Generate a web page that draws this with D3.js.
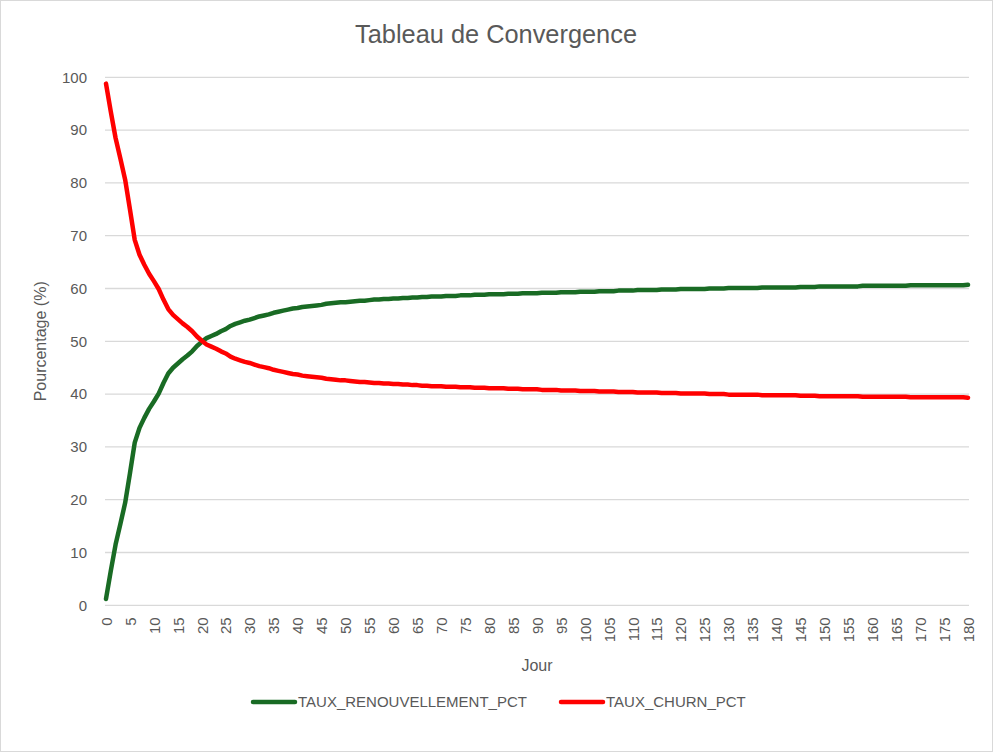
<!DOCTYPE html>
<html>
<head>
<meta charset="utf-8">
<script src="https://cdn.jsdelivr.net/npm/d3@7"></script>
<style>
  html, body { margin: 0; padding: 0; background: #fff; }
  svg text { font-family: 'Liberation Sans', Arial, sans-serif; fill: #595959; }
</style>
</head>
<body>
<div id="chart"></div>
<script>
// Tableau de Convergence - deux séries en %, jour 0 à 180

const title = 'Tableau de Convergence';
const xTitle = 'Jour';
const yTitle = 'Pourcentage (%)';
const seriesNames = ['TAUX_RENOUVELLEMENT_PCT', 'TAUX_CHURN_PCT'];

// jours (catégories)
const days = d3.range(0, 181);
const xTickLabels = d3.range(0, 181, 5);
const yTickLabels = [0, 10, 20, 30, 40, 50, 60, 70, 80, 90, 100];

// taux de renouvellement
const renouvellement = [
  1.2, 6.5, 11.5, 15.4, 19.4, 25.0, 30.8, 33.6, 35.5, 37.2,
  38.6, 40.1, 42.1, 43.9, 45.0, 45.8, 46.6, 47.3, 48.1, 49.1,
  49.9, 50.6, 51.0, 51.4, 51.9, 52.3, 52.9, 53.3, 53.6, 53.9,
  54.1, 54.4, 54.7, 54.9, 55.1, 55.4, 55.6, 55.8, 56.0, 56.2,
  56.3, 56.5, 56.6, 56.7, 56.8, 56.9, 57.1, 57.2, 57.3, 57.4,
  57.4, 57.5, 57.6, 57.7, 57.7, 57.8, 57.9, 57.9, 58.0, 58.0,
  58.1, 58.1, 58.2, 58.2, 58.3, 58.3, 58.4, 58.4, 58.5, 58.5,
  58.5, 58.6, 58.6, 58.6, 58.7, 58.7, 58.7, 58.8, 58.8, 58.8,
  58.9, 58.9, 58.9, 58.9, 59.0, 59.0, 59.0, 59.1, 59.1, 59.1,
  59.1, 59.2, 59.2, 59.2, 59.2, 59.3, 59.3, 59.3, 59.3, 59.4,
  59.4, 59.4, 59.4, 59.5, 59.5, 59.5, 59.5, 59.6, 59.6, 59.6,
  59.6, 59.7, 59.7, 59.7, 59.7, 59.7, 59.8, 59.8, 59.8, 59.8,
  59.9, 59.9, 59.9, 59.9, 59.9, 59.9, 60.0, 60.0, 60.0, 60.0,
  60.1, 60.1, 60.1, 60.1, 60.1, 60.1, 60.1, 60.2, 60.2, 60.2,
  60.2, 60.2, 60.2, 60.2, 60.2, 60.3, 60.3, 60.3, 60.3, 60.4,
  60.4, 60.4, 60.4, 60.4, 60.4, 60.4, 60.4, 60.4, 60.5, 60.5,
  60.5, 60.5, 60.5, 60.5, 60.5, 60.5, 60.5, 60.5, 60.6, 60.6,
  60.6, 60.6, 60.6, 60.6, 60.6, 60.6, 60.6, 60.6, 60.6, 60.6,
  60.7
];

// taux de churn
const churn = [
  98.8, 93.5, 88.5, 84.6, 80.6, 75.0, 69.2, 66.4, 64.5, 62.8,
  61.4, 59.9, 57.9, 56.1, 55.0, 54.2, 53.4, 52.7, 51.9, 50.9,
  50.1, 49.4, 49.0, 48.6, 48.1, 47.7, 47.1, 46.7, 46.4, 46.1,
  45.9, 45.6, 45.3, 45.1, 44.9, 44.6, 44.4, 44.2, 44.0, 43.8,
  43.7, 43.5, 43.4, 43.3, 43.2, 43.1, 42.9, 42.8, 42.7, 42.6,
  42.6, 42.5, 42.4, 42.3, 42.3, 42.2, 42.1, 42.1, 42.0, 42.0,
  41.9, 41.9, 41.8, 41.8, 41.7, 41.7, 41.6, 41.6, 41.5, 41.5,
  41.5, 41.4, 41.4, 41.4, 41.3, 41.3, 41.3, 41.2, 41.2, 41.2,
  41.1, 41.1, 41.1, 41.1, 41.0, 41.0, 41.0, 40.9, 40.9, 40.9,
  40.9, 40.8, 40.8, 40.8, 40.8, 40.7, 40.7, 40.7, 40.7, 40.6,
  40.6, 40.6, 40.6, 40.5, 40.5, 40.5, 40.5, 40.4, 40.4, 40.4,
  40.4, 40.3, 40.3, 40.3, 40.3, 40.3, 40.2, 40.2, 40.2, 40.2,
  40.1, 40.1, 40.1, 40.1, 40.1, 40.1, 40.0, 40.0, 40.0, 40.0,
  39.9, 39.9, 39.9, 39.9, 39.9, 39.9, 39.9, 39.8, 39.8, 39.8,
  39.8, 39.8, 39.8, 39.8, 39.8, 39.7, 39.7, 39.7, 39.7, 39.6,
  39.6, 39.6, 39.6, 39.6, 39.6, 39.6, 39.6, 39.6, 39.5, 39.5,
  39.5, 39.5, 39.5, 39.5, 39.5, 39.5, 39.5, 39.5, 39.4, 39.4,
  39.4, 39.4, 39.4, 39.4, 39.4, 39.4, 39.4, 39.4, 39.4, 39.4,
  39.3
];

const colors = ['#196b24', '#ff0000'];

const width = 993, height = 752;
const plot = { left: 106, right: 968, top: 77.3, bottom: 605.3 };

const svg = d3.select('#chart').append('svg')
  .attr('width', width)
  .attr('height', height);

// cadre extérieur
svg.append('rect')
  .attr('x', 0.5).attr('y', 0.5)
  .attr('width', width - 1).attr('height', height - 1)
  .attr('fill', '#fff')
  .attr('stroke', '#d9d9d9');

const x = d3.scaleLinear().domain([0, 180]).range([plot.left, plot.right]);
const y = d3.scaleLinear().domain([0, 100]).range([plot.bottom, plot.top]);

// grille horizontale
svg.append('g')
  .selectAll('line')
  .data(yTickLabels)
  .join('line')
  .attr('x1', plot.left - 1).attr('x2', plot.right + 1)
  .attr('y1', d => y(d)).attr('y2', d => y(d))
  .attr('stroke', '#d9d9d9')
  .attr('stroke-width', 1.3);

// axe Y (sans trait)
const yAxis = svg.append('g')
  .attr('transform', `translate(${plot.left - 19},0)`)
  .call(d3.axisLeft(y).tickValues(yTickLabels).tickSize(0).tickPadding(0));
yAxis.select('.domain').remove();
yAxis.selectAll('text')
  .attr('font-size', 15)
  .attr('font-family', null)
  .attr('fill', '#595959');

// axe X (étiquettes verticales)
const xAxis = svg.append('g')
  .attr('transform', `translate(0,${plot.bottom + 12})`)
  .call(d3.axisBottom(x).tickValues(xTickLabels).tickSize(0).tickPadding(0));
xAxis.select('.domain').remove();
xAxis.selectAll('text')
  .attr('font-size', 15)
  .attr('font-family', null)
  .attr('fill', '#595959')
  .attr('transform', 'rotate(-90)')
  .attr('text-anchor', 'end')
  .attr('x', 0)
  .attr('y', 0)
  .attr('dy', '0.35em');

// séries
const line = d3.line()
  .x((d, i) => x(days[i]))
  .y(d => y(d));

[renouvellement, churn].forEach((s, k) => {
  svg.append('path')
    .datum(s)
    .attr('fill', 'none')
    .attr('stroke', colors[k])
    .attr('stroke-width', 4.5)
    .attr('stroke-linejoin', 'round')
    .attr('stroke-linecap', 'round')
    .attr('d', line);
});

// titres
svg.append('text')
  .attr('x', 496).attr('y', 43)
  .attr('text-anchor', 'middle')
  .attr('font-size', 25)
  .attr('textLength', 282)
  .attr('lengthAdjust', 'spacingAndGlyphs')
  .text(title);

svg.append('text')
  .attr('x', (plot.left + plot.right) / 2).attr('y', 671)
  .attr('text-anchor', 'middle')
  .attr('font-size', 16)
  .text(xTitle);

svg.append('text')
  .attr('transform', `translate(46,${(plot.top + plot.bottom) / 2}) rotate(-90)`)
  .attr('text-anchor', 'middle')
  .attr('font-size', 16)
  .text(yTitle);

// légende
const legendX = [253, 561];
const legend = svg.append('g')
  .selectAll('g')
  .data(seriesNames)
  .join('g')
  .attr('transform', (d, i) => `translate(${legendX[i]},702)`);

legend.append('line')
  .attr('x1', 0).attr('x2', 42)
  .attr('stroke', (d, i) => colors[i])
  .attr('stroke-width', 4.5)
  .attr('stroke-linecap', 'round');

legend.append('text')
  .attr('x', 45)
  .attr('dy', '0.35em')
  .attr('font-size', 15)
  .text(d => d);
</script>
</body>
</html>
